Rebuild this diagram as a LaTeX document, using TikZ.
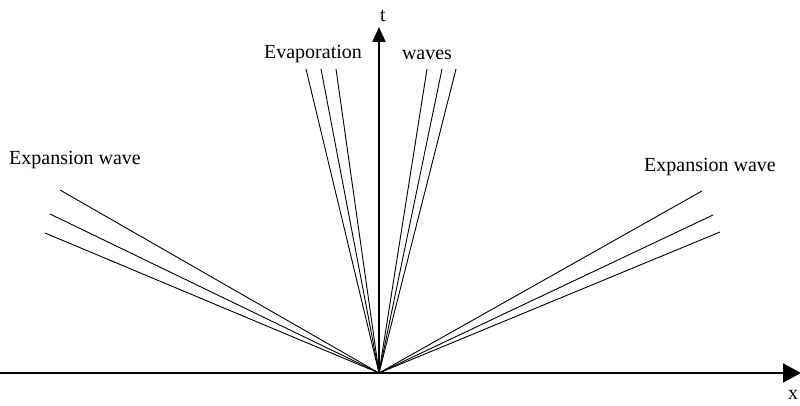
\documentclass[tikz,border=0pt]{standalone}
\usepackage{fontspec}
\setmainfont{Liberation Serif}
\usetikzlibrary{arrows.meta}
\begin{document}
\begin{tikzpicture}[x=1pt,y=1pt,
  axis/.style={line width=2pt},
  wave/.style={line width=0.9pt},
  lbl/.style={font=\fontsize{20}{24}\selectfont,inner sep=0pt}]
\useasboundingbox (0,0) rectangle (800,405);
\coordinate (O) at (379,32);
\coordinate (xs) at (0,32);
\coordinate (xe) at (801,32);
\coordinate (te) at (379,378);
\draw[axis,-{Triangle[length=18pt,width=19pt]}] (xs) -- (xe);
\draw[axis,-{Triangle[length=15pt,width=13pt]}] (O) -- (te);
\node[lbl] (tl) at (383,389) {t};
\node[lbl] (xl) at (793,10) {x};
% left expansion
\coordinate (l1) at (60,215);
\coordinate (l2) at (50,191);
\coordinate (l3) at (45,172);
\draw[wave] (O) -- (l1);
\draw[wave] (O) -- (l2);
\draw[wave] (O) -- (l3);
% right expansion
\coordinate (r1) at (702,214);
\coordinate (r2) at (713,190);
\coordinate (r3) at (720,173);
\draw[wave] (O) -- (r1);
\draw[wave] (O) -- (r2);
\draw[wave] (O) -- (r3);
% evaporation
\coordinate (e1) at (306,336);
\coordinate (e2) at (321,336);
\coordinate (e3) at (336,336);
\coordinate (e4) at (427,336);
\coordinate (e5) at (442,336);
\coordinate (e6) at (456,336);
\foreach \p in {e1,e2,e3,e4,e5,e6} \draw[wave] (O) -- (\p);
\node[lbl] (evap) at (313,351) {Evaporation};
\node[lbl] (wav) at (427,350) {waves};
\node[lbl,anchor=west] (exl) at (9,245) {Expansion wave};
\node[lbl,anchor=west] (exr) at (644,238) {Expansion wave};
\end{tikzpicture}
\end{document}
